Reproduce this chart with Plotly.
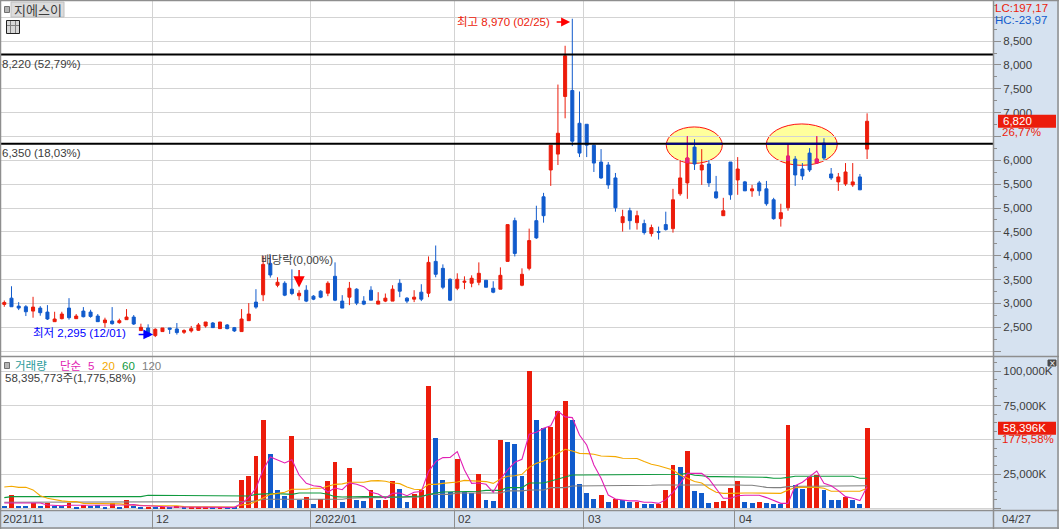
import plotly.graph_objects as go

W, H = 1059, 529
RED = "#ec1c0b"
BLUE = "#115bcc"
PINK = "#e8207a"
GRID = "#d3d3d3"
FRAME = "#8e8e8e"
PANEL = "#d6e2f0"
TEXT = "#3c3c3c"
MAGENTA = "#e21fb4"
ORANGE = "#f4a900"
GREEN = "#0f9a3e"
GRAY = "#808080"
FONT = "Liberation Sans, Noto Sans CJK KR, sans-serif"
KFONT = "Noto Sans CJK KR, sans-serif"
FS = 11.5

opens = [2980,3111,2944,2931,2840,2903,2819,2618,2681,2903,2681,2840,2819,2736,2597,2632,2597,2660,2715,2431,
         2486,2326,2410,2486,2465,2396,2424,2438,2528,2590,2472,2549,2493,2410,2639,3028,3181,3840,3382,3424,
         3299,3160,3278,3153,3257,3215,3569,3049,3132,3299,3049,3278,2986,3049,3049,3424,3111,3090,3236,3215,
         3882,3736,3507,3319,3444,3424,3444,3486,3319,3299,3882,4736,3382,3736,4736,5236,5799,6132,7340,7465,
         6778,6757,6319,5965,5903,5632,4694,4944,4694,4674,4465,4507,4653,4569,5299,5528,6278,5799,5924,5340,
         4840,5965,5590,5549,5361,5528,5403,5174,4778,5007,6028,5819,6153,5944,6361,5715,5549,5507,5486,5653,
         6236]
highs = [3062,3361,3028,2965,3139,2944,2965,2826,2826,3111,2778,2924,2868,2778,2701,2924,2681,2882,2757,2576,
         2563,2479,2486,2486,2590,2458,2528,2590,2611,2611,2611,2569,2507,2882,3007,3299,4000,4007,3549,3465,
         3715,3278,3382,3174,3278,3465,3861,3174,3451,3319,3153,3361,3236,3208,3382,3507,3132,3278,3403,3986,
         4215,3819,3528,3632,3569,3590,3861,3486,3465,3757,4653,4799,3736,4569,5049,5319,6319,7590,8403,8970,
         7444,6757,6333,6236,5965,5736,4965,5007,4944,4757,4653,4611,4924,5403,6007,6507,6444,6236,6007,5674,
         5215,5965,6069,5569,5486,5569,5569,5215,5090,6361,6090,5944,6257,6507,6465,5840,5736,5944,5944,5715,
         6986]
lows = [2931,2931,2861,2736,2701,2743,2653,2618,2667,2660,2674,2708,2701,2611,2493,2556,2576,2653,2549,2424,
        2300,2295,2410,2361,2347,2361,2389,2424,2493,2486,2465,2458,2403,2410,2639,2889,3049,3542,3340,3153,
        3174,3069,3028,3069,3111,3153,3049,2903,2965,2965,2965,3069,2986,3028,3049,3132,3007,3028,3049,3132,
        3549,3299,3049,3278,3299,3340,3382,3340,3215,3299,3882,3986,3361,3694,4354,4694,5465,5903,6882,6299,
        6069,6069,5757,5611,5403,4924,4507,4549,4549,4444,4403,4340,4528,4486,5257,5194,5799,5486,5444,5194,
        4840,5174,5278,5361,5236,5257,5049,4757,4611,4944,5465,5590,5757,5944,6007,5590,5361,5465,5444,5382,
        6028]
closes = [3021,2931,2903,2826,2924,2806,2674,2674,2778,2701,2736,2722,2729,2618,2653,2576,2639,2715,2569,2500,
          2319,2458,2486,2458,2389,2431,2472,2549,2611,2493,2611,2472,2424,2674,2778,2924,3819,3597,3444,3174,
          3208,3215,3049,3090,3132,3424,3069,2903,3319,3007,2986,3069,3049,3111,3299,3257,3049,3132,3090,3861,
          3611,3340,3069,3507,3465,3528,3632,3340,3236,3590,4653,4049,3611,4319,4375,4840,6319,6569,8194,6403,
          6153,6319,5944,5632,5486,5007,4819,4736,4840,4486,4590,4493,4549,5174,5632,6049,5924,5903,5528,5215,
          4944,5278,5819,5361,5403,5361,5090,4778,4903,6090,5694,5674,5799,6028,6049,5632,5653,5757,5549,5382,
          6820]

# volume in thousands of shares; colour flags: 1 = red bar, 0 = blue bar
volumes = [1700,9700,1700,1700,3650,1700,4100,1700,1700,4100,970,2400,1700,2400,1200,4100,1200,6100,1700,1000,
           1000,1200,700,700,1900,700,700,700,700,700,700,700,700,20700,23600,38200,64500,39700,13400,9000,
           52800,6100,8300,3200,6800,20000,33800,4600,29400,6100,5350,13400,6100,6100,20000,14100,4600,10500,13400,89300,
           51300,20700,11900,36000,11900,11200,25100,6100,5350,49900,48400,47000,23600,100200,64500,58600,59400,71000,78300,64500,
           17800,11200,6800,9700,4600,6800,6100,4600,4600,3200,3200,3200,13400,31600,30200,41800,12700,11200,3900,4600,
           5350,14800,20000,4600,3900,4600,3900,3200,3200,60800,17000,14100,22900,24300,13400,6100,6100,8300,6100,3200,
           58396]
vol_up = [0,1,0,0,1,0,1,0,0,1,0,1,0,0,0,1,0,1,0,0,
          1,0,1,0,1,0,1,1,1,0,1,0,0,1,1,1,1,0,0,0,
          1,0,1,0,1,1,1,0,1,0,0,1,0,1,1,0,0,1,1,1,
          0,0,0,1,0,0,1,0,0,1,0,0,0,1,0,0,1,1,1,0,
          0,0,0,1,0,1,0,0,1,0,0,1,1,1,0,1,0,0,0,1,
          1,1,1,0,0,1,0,0,0,1,0,0,1,1,0,0,0,1,0,0,
          1]
ma5 = [3900,3900,3900,3900,3900,3900,2400,1900,1900,2200,2200,2200,1900,1900,1900,1900,2200,2400,2700,1900,
       1900,1500,1500,1000,1000,1000,700,700,700,700,700,700,700,3600,7800,14600,28000,37500,35000,33100,
       35500,24300,18200,16500,15800,11900,14800,13600,18500,17500,15800,11700,10500,7300,10900,11200,9200,11700,12200,26800,
       34100,37000,37200,41400,28000,18200,18500,17500,11700,21200,28000,33600,35800,54000,55500,58400,60300,71000,66700,66200,
       53500,46200,31600,21900,9700,6800,6100,5400,5400,4400,4400,3600,6300,11700,18200,25500,25500,25500,21400,14600,
       7300,7300,9200,9500,9500,9500,7800,5800,3600,3600,16500,19000,23100,27200,18200,16500,12900,8500,7300,5600,
       15800]
ma20 = [15600,16100,15300,15300,13400,9200,7300,6300,5400,4900,4900,3600,3600,3600,3200,3200,3200,2700,2400,1900,
        1900,1900,1900,1900,1900,1200,1200,1200,1200,1200,1000,1000,1000,2400,2900,4900,7300,10200,10900,11700,
        13900,13900,13900,14600,14600,16100,17500,17800,19000,19000,19000,20000,20200,19700,18500,18000,15600,13900,13600,17500,
        17500,18200,18500,19200,20400,20000,19700,19500,18200,21400,23400,23800,24800,29900,32800,34500,37000,40100,43100,41800,
        40100,39900,39400,38200,38200,37700,36500,36500,36300,34100,32100,31100,29400,28000,24300,21900,19500,18500,14600,11700,
        10900,10900,11200,11200,11200,11200,10900,10900,10900,13400,15100,15300,15300,15300,14600,12400,12400,12200,12400,12400,
        14600]
ma60 = [7800,8500,8500,8500,8500,8500,8500,8500,8500,8500,8500,8500,8500,8500,8500,8500,8500,8500,8500,8500,
        9500,9500,9500,9500,9500,9500,9500,9500,9500,9500,9500,9500,9500,9000,9000,10200,10700,10700,10700,10700,
        10200,11200,11200,11200,11200,10200,8500,8300,8500,8500,8500,8500,8300,8300,8300,8300,8800,8800,8800,10200,
        11200,11900,11900,11900,12400,12400,12400,13100,13100,13100,15100,15100,15100,18500,18500,18500,19900,21400,22400,24300,
        24300,24300,24300,24300,24300,24300,24800,24800,24800,24800,24800,24800,24800,24800,24800,25500,24100,23800,23100,23100,
        23100,23100,23100,23100,22600,22600,22600,21900,21900,22600,23400,23400,23400,23400,23400,23400,23400,23400,23400,21900,
        21900]
ma120 = [4400,4400,4400,4400,4400,4400,4400,4400,4400,4400,4400,4400,4400,4400,4400,4400,4400,4400,4400,4400,
         4400,4400,4400,4400,4400,4400,4400,4400,4400,4400,4400,4400,4400,4900,4900,5400,6600,6600,6600,6600,
         6600,6600,6600,6600,6600,6600,6600,6600,7300,7800,7800,7800,7800,7800,7800,8300,8300,8300,8300,10200,
         10200,10200,10200,11200,11200,11200,11200,11200,11200,11200,12700,12700,12700,13400,13400,13400,15100,15100,15100,16300,
         16300,16300,16300,16300,16300,16300,16800,16800,16800,16800,16800,17000,17000,17000,17000,17000,17500,17000,17000,17000,
         17000,17000,17000,16800,16800,16100,15300,15100,15100,15800,16100,16100,16100,16100,16100,16100,16100,16100,16100,16100,
         16500]

price_ticks = [2000,2500,3000,3500,4000,4500,5000,5500,6000,6500,7000,7500,8000,8500,9000]
price_labels = ["","2,500","3,000","3,500","4,000","4,500","5,000","5,500","6,000","","7,000","7,500","8,000","8,500",""]
vol_ticks = [0,25000,50000,75000,100000]
vol_labels = ["","25,000K","","75,000K","100,000K"]
month_pos = [20.6,42.6,62.6,80.6,101.6]
month_labels = ["12","2022/01","02","03","04"]
level_prices = [8220,6350]
level_labels = ["8,220 (52,79%)","6,350 (18,03%)"]
# highlighted areas: index from, index to, price low, price high
ellipse_x = [[92.07,99.86],[105.98,115.85]]
ellipse_p = [[5937,6701],[5896,6764]]
# candle parts showing through the highlight
hl_x = [95,109,113]
hl_open = [5950,5995,5944]
hl_high = [6507,6361,6507]
hl_low = [5950,5995,5944]
hl_close = [6049,6090,6028]

n = len(closes)
for s in (opens,highs,lows,volumes,vol_up,ma5,ma20,ma60,ma120):
    assert len(s) == n, len(s)
idx = list(range(n))

S = 7.19
X0 = 4.3
def px(x): return x / W
def py(y): return 1 - y / H

fig = go.Figure()
fig.add_trace(go.Candlestick(x=idx, open=opens, high=highs, low=lows, close=closes,
    increasing=dict(line=dict(color=RED,width=1),fillcolor=RED),
    decreasing=dict(line=dict(color=BLUE,width=1),fillcolor=BLUE),
    whiskerwidth=0, hoverinfo="skip", xaxis="x", yaxis="y"))
fig.add_trace(go.Candlestick(x=hl_x, open=hl_open, high=hl_high, low=hl_low, close=hl_close,
    increasing=dict(line=dict(color=PINK,width=1),fillcolor=PINK),
    decreasing=dict(line=dict(color=PINK,width=1),fillcolor=PINK),
    whiskerwidth=0, hoverinfo="skip", xaxis="x", yaxis="y"))
fig.add_trace(go.Bar(x=idx, y=volumes, width=0.68,
    marker=dict(color=[RED if u else BLUE for u in vol_up], line=dict(width=0)),
    hoverinfo="skip", xaxis="x2", yaxis="y2"))
for vals, col in ((ma120,GRAY),(ma60,GREEN),(ma20,ORANGE),(ma5,MAGENTA)):
    fig.add_trace(go.Scatter(x=idx, y=vals, mode="lines", line=dict(color=col,width=1.1),
        hoverinfo="skip", xaxis="x2", yaxis="y2"))

xr = [(0-X0)/S, (993-X0)/S]
pslope = 310/6500
vslope = 137/100000
prange = [2500-(356-327.3)/pslope, 9000+(17.3-1)/pslope]
vrange = [-(510-508.3)/vslope, 100000+(371.3-357)/vslope]

axx = dict(range=xr, tickmode="array", tickvals=month_pos, showticklabels=False, showgrid=True,
           gridcolor=GRID, gridwidth=1, zeroline=False, rangeslider=dict(visible=False),
           domain=[0,993/W], fixedrange=True)
ayy = dict(side="right", showgrid=True, gridcolor=GRID, gridwidth=1, zeroline=False,
           ticks="outside", ticklen=7, tickcolor=FRAME, tickfont=dict(family=FONT,size=FS,color=TEXT),
           tickmode="array", showline=False, fixedrange=True)
fig.update_layout(
    width=W, height=H, margin=dict(l=0,r=0,t=0,b=0,autoexpand=False),
    paper_bgcolor=PANEL, plot_bgcolor="white", showlegend=False, boxgap=0.4, bargap=0,
    xaxis=dict(axx, anchor="y", ticks=""),
    xaxis2=dict(axx, anchor="y2", ticks="outside", ticklen=18, tickcolor=FRAME, tickwidth=1),
    yaxis=dict(ayy, domain=[py(356),py(1)], range=prange, tickvals=price_ticks, ticktext=price_labels, anchor="x",
               minor=dict(dtick=250,ticks="outside",ticklen=3,tickcolor=FRAME,showgrid=False)),
    yaxis2=dict(ayy, domain=[py(510),py(357)], range=vrange, tickvals=vol_ticks, ticktext=vol_labels, anchor="x2",
                minor=dict(dtick=6250,ticks="outside",ticklen=3,tickcolor=FRAME,showgrid=False)),
)

shapes = []
# highlights
for (x0,x1),(p0,p1) in zip(ellipse_x,ellipse_p):
    shapes.append(dict(type="circle",xref="x",yref="y",x0=x0,x1=x1,y0=p0,y1=p1,
                       fillcolor="#ffff9c",line=dict(color="#ff1010",width=1),layer="below"))
# level lines
for p in level_prices:
    shapes.append(dict(type="line",xref="x",yref="y",x0=xr[0],x1=xr[1],y0=p,y1=p,
                       line=dict(color="black",width=2),layer="above"))
for (x0,x1) in ellipse_x:
    shapes.append(dict(type="line",xref="x",yref="y",x0=x0,x1=x1,y0=level_prices[1],y1=level_prices[1],
                       line=dict(color="#000080",width=2),layer="above"))
# frame
def hline(y,x0=0,x1=W,w=1.5): return dict(type="line",xref="paper",yref="paper",x0=px(x0),x1=px(x1),y0=py(y),y1=py(y),line=dict(color=FRAME,width=w),layer="above")
def vline(x,y0=0,y1=H,w=1.5): return dict(type="line",xref="paper",yref="paper",x0=px(x),x1=px(x),y0=py(y0),y1=py(y1),line=dict(color=FRAME,width=w),layer="above")
shapes += [hline(0.5),hline(356.5),hline(510.5),hline(528),vline(0.5),vline(993.5),vline(1058)]
def rect(x0,y0,x1,y1,fill,line=None,lw=1):
    return dict(type="rect",xref="paper",yref="paper",x0=px(x0),x1=px(x1),y0=py(y0),y1=py(y1),
                fillcolor=fill,line=dict(color=line or fill,width=lw),layer="above")
shapes += [rect(11,2,64,17,"#dcdcdc","#c0c0c0"),rect(4.5,6.5,9.5,12.5,"#b4b4b4","#707070"),
           rect(6.5,20.5,19.5,33.5,"#d8d8d8","#222222"),
           rect(4.5,362.5,9.5,368.5,"#b4b4b4","#707070"),rect(1048,360,1056,366,"#4a4a4a")]
# small table icon grid
for gx in (10.5,15.5):
    shapes.append(vline(gx,21,33,1))
shapes[-1]["line"]["color"]=shapes[-2]["line"]["color"]="#808080"
g = hline(25.5,7,19,1); g["line"]["color"]="#808080"; shapes.append(g)
# current value tags
for val, yr in ((closes[-1],"y"),(volumes[-1],"y2")):
    shapes.append(dict(type="rect",xref="paper",x0=px(998),x1=px(1056),yref=yr,ysizemode="pixel",yanchor=val,
                       y0=-6.5,y1=6.5,fillcolor=RED,line=dict(width=0),layer="above"))
fig.update_layout(shapes=shapes)

def note(x,y,text,color=TEXT,size=FS,anchor="left",family=FONT,**kw):
    return dict(x=px(x),y=py(y),xref="paper",yref="paper",text=text,showarrow=False,xanchor=anchor,yanchor="middle",
                font=dict(family=family,size=size,color=color),borderpad=0,borderwidth=0,**kw)
anns = [
    note(14,9.5,"지에스이",size=13,family=KFONT),
    note(2,64,level_labels[0]),
    note(2,153,level_labels[1]),
    note(550,22,"최고 8,970 (02/25)",RED,anchor="right"),
    note(33,333,"최저 2,295 (12/01)","#0000ff"),
    note(261,260,"배당락(0,00%)"),
    note(995,8,"LC:197,17",RED),
    note(995,20,"HC:-23,97",BLUE),
    note(15,366,"거래량","#2a9a9a"),
    note(60,366,"단순",MAGENTA),
    note(88,366,"5",MAGENTA),
    note(102,366,"20",ORANGE),
    note(122,366,"60",GREEN),
    note(142,366,"120",GRAY),
    note(5,378,"58,395,773주(1,775,58%)"),
    note(3,519,"2021/11"),
    note(1002,519,"04/27"),
    note(1052,363,"×","white",size=8,anchor="center",family="DejaVu Sans"),
    note(1002,132,"26,77%",RED),
    note(1002,439,"1775,58%",RED),
]
for mx,ml in zip(month_pos,month_labels):
    anns.append(dict(x=mx,y=py(519),xref="x2",yref="paper",text=ml,showarrow=False,xanchor="left",yanchor="middle",xshift=2,
                     font=dict(family=FONT,size=FS,color=TEXT)))
anns.append(dict(x=px(1002),y=closes[-1],xref="paper",yref="y",text="6,820",showarrow=False,xanchor="left",yanchor="middle",
                 font=dict(family=FONT,size=FS,color="white"),borderpad=0))
anns.append(dict(x=px(1002),y=volumes[-1],xref="paper",yref="y2",text="58,396K",showarrow=False,xanchor="left",yanchor="middle",
                 font=dict(family=FONT,size=FS,color="white"),borderpad=0))
# arrows
anns.append(dict(x=79-0.3,y=8900,xref="x",yref="y",ax=-15,ay=0,axref="pixel",ayref="pixel",text="",showarrow=True,
                 arrowhead=2,arrowsize=1.2,arrowwidth=1.5,arrowcolor="#ff0000"))
anns.append(dict(x=20.7,y=2350,xref="x",yref="y",ax=-16,ay=0,axref="pixel",ayref="pixel",text="",showarrow=True,
                 arrowhead=2,arrowsize=1.3,arrowwidth=1.5,arrowcolor="#0000ff"))
anns.append(dict(x=41,y=3333,xref="x",yref="y",ax=0,ay=-19,axref="pixel",ayref="pixel",text="",showarrow=True,
                 arrowhead=2,arrowsize=1.5,arrowwidth=1.5,arrowcolor="#ff0000"))
fig.update_layout(annotations=anns)

fig.write_html("out.html", config=dict(displayModeBar=False),
               post_script="document.body.style.margin='0';document.body.style.overflow='hidden';")
